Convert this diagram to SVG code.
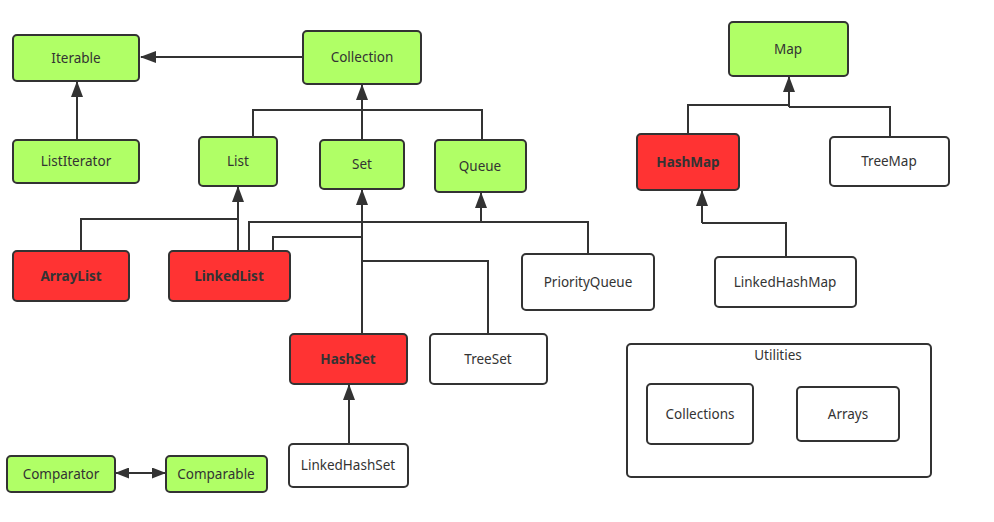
<svg xmlns="http://www.w3.org/2000/svg" width="994" height="522" viewBox="0 0 994 522">
<style>
.n rect{stroke:#333;stroke-width:2;}
.g rect{fill:#b0ff66;}
.r rect{fill:#ff3333;}
.w rect{fill:#ffffff;}
text{font-family:"Noto Sans","Open Sans","DejaVu Sans",sans-serif;font-size:13.5px;fill:#333;text-anchor:middle;dominant-baseline:central;}
.r text{font-weight:bold;}
.c polyline,.c line{fill:none;stroke:#333;stroke-width:2;}
</style>
<defs>
<marker id="a" markerUnits="userSpaceOnUse" viewBox="0 0 16 12" markerWidth="16" markerHeight="12" refX="15" refY="6" orient="auto-start-reverse">
<path d="M0,0 L16,6 L0,12 z" fill="#333"/>
</marker>
<marker id="b" markerUnits="userSpaceOnUse" viewBox="0 0 14 11" markerWidth="14" markerHeight="11" refX="13" refY="5.5" orient="auto-start-reverse">
<path d="M0,0 L14,5.5 L0,11 z" fill="#333"/>
</marker>
</defs>
<rect width="994" height="522" fill="#fff"/>
<g class="c" id="connectors">
<line x1="303" y1="57" x2="141" y2="57" marker-end="url(#a)"/>
<line x1="77" y1="140" x2="77" y2="82" marker-end="url(#a)"/>
<line x1="362" y1="140" x2="362" y2="85" marker-end="url(#a)"/>
<polyline points="253,137 253,110 482,110 482,140"/>
<line x1="238" y1="251" x2="238" y2="187" marker-end="url(#a)"/>
<polyline points="81,251 81,219 238,219"/>
<line x1="481" y1="222" x2="481" y2="193" marker-end="url(#a)"/>
<polyline points="249,251 249,222 588,222 588,254"/>
<line x1="362" y1="334" x2="362" y2="190" marker-end="url(#a)"/>
<polyline points="273,251 273,237 362,237"/>
<polyline points="362,261 488,261 488,334"/>
<line x1="789" y1="107" x2="789" y2="77" marker-end="url(#a)"/>
<polyline points="688,134 688,105 789,105"/>
<polyline points="789,107 890,107 890,137"/>
<line x1="702" y1="223" x2="702" y2="191" marker-end="url(#a)"/>
<polyline points="786,257 786,223 702,223"/>
<line x1="349" y1="444" x2="349" y2="385" marker-end="url(#a)"/>
<line x1="116" y1="473" x2="165" y2="473" marker-start="url(#b)" marker-end="url(#b)"/>
</g>
<g id="Iterable" class="n g"><rect x="13" y="35" width="126" height="46" rx="4"/><text x="76" y="58">Iterable</text></g>
<g id="Collection" class="n g"><rect x="303" y="31" width="118" height="53" rx="4"/><text x="362" y="57">Collection</text></g>
<g id="ListIterator" class="n g"><rect x="13" y="140" width="126" height="43" rx="4"/><text x="76" y="161">ListIterator</text></g>
<g id="List" class="n g"><rect x="199" y="137" width="78" height="49" rx="4"/><text x="238" y="161">List</text></g>
<g id="Set" class="n g"><rect x="320" y="140" width="84" height="49" rx="4"/><text x="362" y="164">Set</text></g>
<g id="Queue" class="n g"><rect x="435" y="140" width="91" height="52" rx="4"/><text x="480" y="166">Queue</text></g>
<g id="Map" class="n g"><rect x="729" y="22" width="119" height="54" rx="4"/><text x="788" y="49">Map</text></g>
<g id="ArrayList" class="n r"><rect x="13" y="251" width="116" height="50" rx="4"/><text x="71" y="276">ArrayList</text></g>
<g id="LinkedList" class="n r"><rect x="169" y="251" width="121" height="50" rx="4"/><text x="229" y="276">LinkedList</text></g>
<g id="PriorityQueue" class="n w"><rect x="522" y="254" width="132" height="56" rx="4"/><text x="588" y="282">PriorityQueue</text></g>
<g id="HashSet" class="n r"><rect x="290" y="334" width="117" height="50" rx="4"/><text x="348" y="359">HashSet</text></g>
<g id="TreeSet" class="n w"><rect x="430" y="334" width="117" height="50" rx="4"/><text x="488" y="359">TreeSet</text></g>
<g id="LinkedHashSet" class="n w"><rect x="289" y="444" width="119" height="43" rx="4"/><text x="348" y="465">LinkedHashSet</text></g>
<g id="HashMap" class="n r"><rect x="637" y="134" width="102" height="56" rx="4"/><text x="688" y="162">HashMap</text></g>
<g id="TreeMap" class="n w"><rect x="830" y="137" width="119" height="49" rx="4"/><text x="889" y="161">TreeMap</text></g>
<g id="LinkedHashMap" class="n w"><rect x="715" y="257" width="141" height="50" rx="4"/><text x="785" y="282">LinkedHashMap</text></g>
<g id="Utilities" class="n w"><rect x="627" y="344" width="304" height="133" rx="4"/><text x="778" y="355">Utilities</text></g>
<g id="Collections" class="n w"><rect x="647" y="384" width="106" height="60" rx="4"/><text x="700" y="414">Collections</text></g>
<g id="Arrays" class="n w"><rect x="797" y="387" width="102" height="54" rx="4"/><text x="848" y="414">Arrays</text></g>
<g id="Comparator" class="n g"><rect x="7" y="456" width="108" height="36" rx="4"/><text x="61" y="474">Comparator</text></g>
<g id="Comparable" class="n g"><rect x="166" y="456" width="101" height="36" rx="4"/><text x="216" y="474">Comparable</text></g>
</svg>
